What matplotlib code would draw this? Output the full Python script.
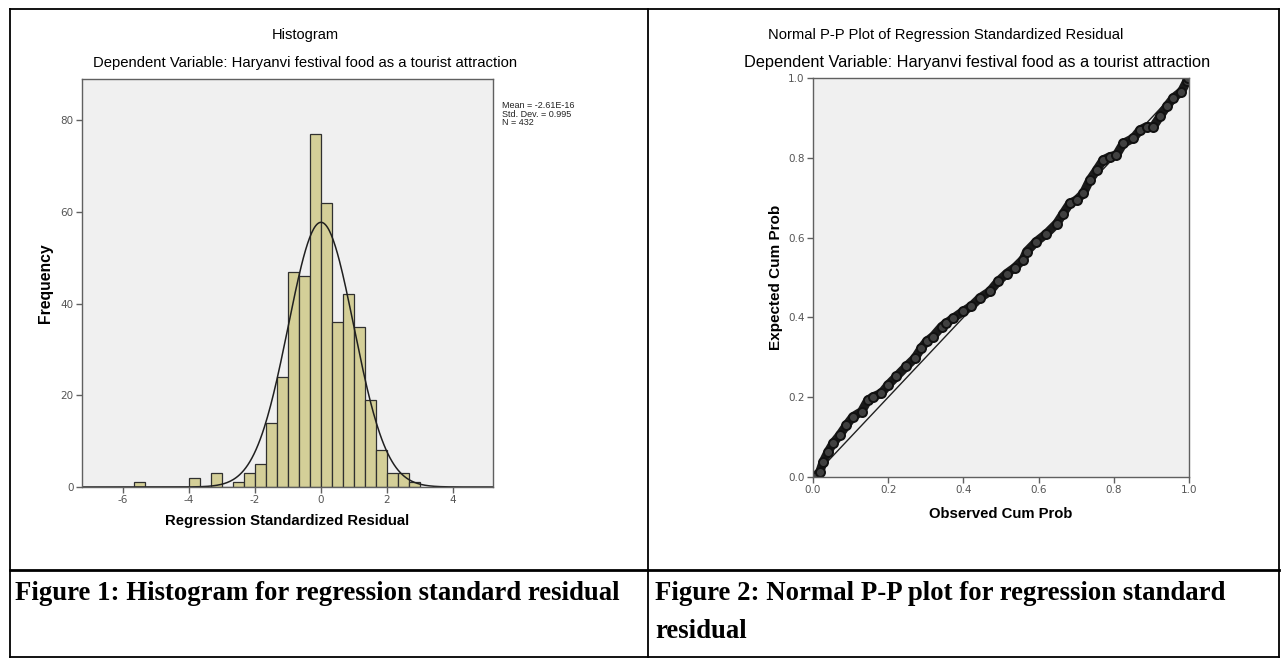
import numpy as np
import matplotlib.pyplot as plt
from matplotlib.lines import Line2D

plt.rcParams["axes.unicode_minus"] = False

# histogram counts, bins of width 1/3 starting at -17/3
bin_start = -17
bin_counts = [1, 0, 0, 0, 0, 2, 0, 3, 0, 1, 3, 5, 14, 24, 47, 46, 77, 62,
              36, 42, 35, 19, 8, 3, 3, 1]
res_mean = -2.61e-16
res_sd = 0.995
res_n = 432

# normal P-P plot points
obs_cum = [0.004, 0.018, 0.027, 0.040, 0.053, 0.071, 0.089, 0.106, 0.129, 0.146,
           0.160, 0.182, 0.200, 0.222, 0.248, 0.271, 0.288, 0.302, 0.319, 0.342,
           0.355, 0.373, 0.399, 0.421, 0.444, 0.470, 0.492, 0.515, 0.537, 0.559,
           0.568, 0.594, 0.621, 0.648, 0.665, 0.683, 0.701, 0.719, 0.736, 0.754,
           0.772, 0.790, 0.807, 0.825, 0.852, 0.870, 0.887, 0.905, 0.923, 0.941,
           0.958, 0.980, 0.994, 0.998]
exp_cum = [0.000, 0.013, 0.038, 0.063, 0.084, 0.105, 0.130, 0.151, 0.164, 0.193,
           0.201, 0.210, 0.231, 0.252, 0.277, 0.298, 0.323, 0.340, 0.352, 0.377,
           0.386, 0.398, 0.415, 0.428, 0.449, 0.465, 0.490, 0.510, 0.525, 0.545,
           0.565, 0.590, 0.610, 0.635, 0.660, 0.686, 0.694, 0.711, 0.744, 0.769,
           0.795, 0.803, 0.807, 0.836, 0.849, 0.870, 0.878, 0.878, 0.904, 0.929,
           0.950, 0.966, 0.992, 1.000]

W, H = 1283, 660
fig = plt.figure(figsize=(W / 100, H / 100), dpi=100)
fig.patch.set_facecolor("white")


def fx(x):
    return x / W


def fy(y):
    return 1 - y / H


def ax_rect(l, t, r, b):
    return [fx(l), fy(b), (r - l) / W, (b - t) / H]


def style_axes(ax):
    ax.set_facecolor("#F0F0F0")
    for s in ax.spines.values():
        s.set_color("#606060")
        s.set_linewidth(1.0)
    ax.tick_params(direction="out", length=4, width=1, color="#606060",
                   labelsize=7.5, labelcolor="#555555", pad=2)


sans = "Liberation Sans"

# ---- histogram ----
ax1 = fig.add_axes(ax_rect(82, 79, 493, 487))
style_axes(ax1)
edges = np.arange(bin_start, bin_start + len(bin_counts) + 1) / 3
centers = (edges[:-1] + edges[1:]) / 2
ax1.hist(centers, bins=edges, weights=bin_counts, color="#D4CF98",
         edgecolor="#303030", linewidth=0.9)
xs = np.linspace(-7.24, 5.21, 400)
bw = 1 / 3
curve = res_n * bw / (res_sd * np.sqrt(2 * np.pi)) * np.exp(-0.5 * ((xs - res_mean) / res_sd) ** 2)
ax1.plot(xs, curve, color="#202020", lw=1.1)
ax1.set_xlim(-7.24, 5.21)
ax1.set_ylim(0, 89)
ax1.set_xticks([-6, -4, -2, 0, 2, 4])
ax1.set_yticks([0, 20, 40, 60, 80])

fig.text(fx(305), fy(35), "Histogram", ha="center", va="center",
         fontsize=10.5, family=sans)
fig.text(fx(305), fy(63), "Dependent Variable: Haryanvi festival food as a tourist attraction",
         ha="center", va="center", fontsize=10.75, family=sans)
fig.text(fx(287), fy(521), "Regression Standardized Residual", ha="center",
         va="center", fontsize=10.7, family=sans, weight="bold")
fig.text(fx(45), fy(283), "Frequency", ha="center", va="center", rotation=90,
         fontsize=11.3, family=sans, weight="bold")
fig.text(fx(502), fy(101), "Mean = -2.61E-16\nStd. Dev. = 0.995\nN = 432",
         ha="left", va="top", fontsize=6.5, family=sans, linespacing=0.95,
         color="#222222")

# ---- P-P plot ----
ax2 = fig.add_axes(ax_rect(813, 78, 1189, 477))
style_axes(ax2)
ax2.plot([0, 1], [0, 1], color="#202020", lw=1.0)
ax2.plot(obs_cum, exp_cum, color="#1a1a1a", lw=6.5, solid_capstyle="round",
         solid_joinstyle="round")
ax2.plot(obs_cum, exp_cum, linestyle="none", marker="o", ms=6.5,
         mfc="#404040", mec="#111111", mew=1.4)
ax2.set_xlim(0, 1)
ax2.set_ylim(0, 1)
ticks = [0.0, 0.2, 0.4, 0.6, 0.8, 1.0]
ax2.set_xticks(ticks)
ax2.set_yticks(ticks)
ax2.set_xticklabels([f"{t:.1f}" for t in ticks])
ax2.set_yticklabels([f"{t:.1f}" for t in ticks])

fig.text(fx(946), fy(35), "Normal P-P Plot of Regression Standardized Residual",
         ha="center", va="center", fontsize=10.6, family=sans)
fig.text(fx(977), fy(63), "Dependent Variable: Haryanvi festival food as a tourist attraction",
         ha="center", va="center", fontsize=11.8, family=sans)
fig.text(fx(1001), fy(514), "Observed Cum Prob", ha="center", va="center",
         fontsize=10.7, family=sans, weight="bold")
fig.text(fx(776), fy(277), "Expected Cum Prob", ha="center", va="center",
         rotation=90, fontsize=11, family=sans, weight="bold")

# ---- table frame and captions ----
serif = "Liberation Serif"
fig.text(fx(15), fy(593), "Figure 1: Histogram for regression standard residual",
         ha="left", va="center", fontsize=19.3, family=serif, weight="bold")
fig.text(fx(655), fy(593), "Figure 2: Normal P-P plot for regression standard",
         ha="left", va="center", fontsize=19.3, family=serif, weight="bold")
fig.text(fx(655), fy(631), "residual", ha="left", va="center", fontsize=19.3,
         family=serif, weight="bold")

frame = [((10, 9), (1279, 9)), ((10, 657), (1279, 657)), ((10, 9), (10, 657)),
         ((1279, 9), (1279, 657)), ((648, 9), (648, 657))]
for (x0, y0), (x1, y1) in frame:
    fig.add_artist(Line2D([fx(x0), fx(x1)], [fy(y0), fy(y1)], color="black", lw=1.3))
fig.add_artist(Line2D([fx(10), fx(1279)], [fy(570), fy(570)], color="black", lw=2.0))

fig.savefig("out.png", dpi=100)
